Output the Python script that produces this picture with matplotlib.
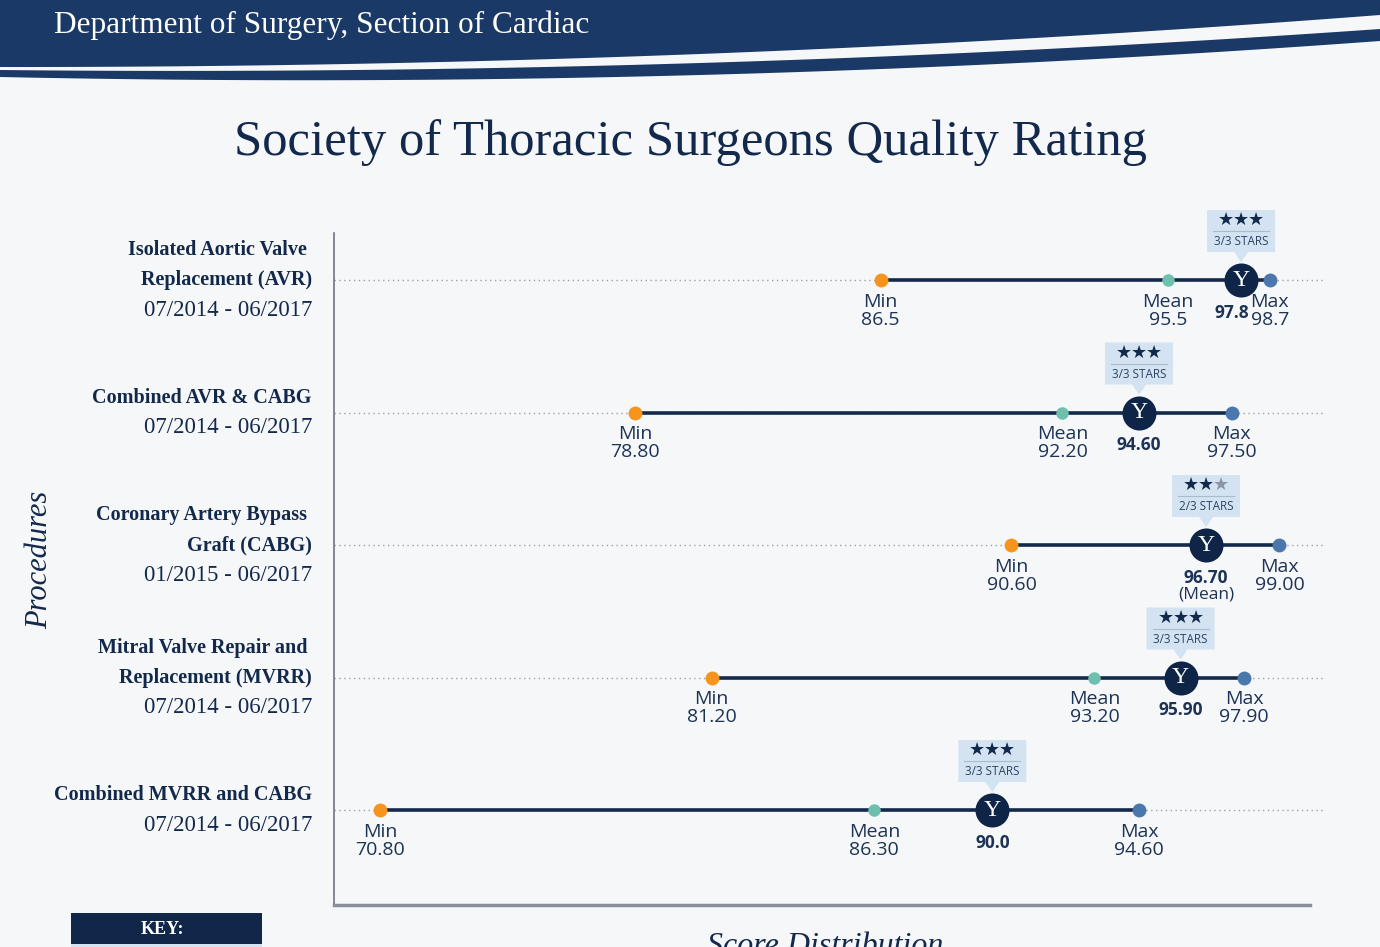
import matplotlib.pyplot as plt
import matplotlib.transforms as mtransforms
from matplotlib.patches import Polygon, Rectangle
import numpy as np

# Data
procedures = [["Isolated Aortic Valve ", "Replacement (AVR)"],
              ["Combined AVR & CABG"],
              ["Coronary Artery Bypass ", "Graft (CABG)"],
              ["Mitral Valve Repair and ", "Replacement (MVRR)"],
              ["Combined MVRR and CABG"]]
periods = ["07/2014 - 06/2017", "07/2014 - 06/2017", "01/2015 - 06/2017",
           "07/2014 - 06/2017", "07/2014 - 06/2017"]
score_min = [86.5, 78.8, 90.6, 81.2, 70.8]
score_mean = [95.5, 92.2, 96.7, 93.2, 86.3]
score_max = [98.7, 97.5, 99.0, 97.9, 94.6]
score_yale = [97.8, 94.6, 96.7, 95.9, 90.0]
stars = [3, 3, 2, 3, 3]
stat_decimals = [1, 2, 2, 2, 2]
yale_decimals = [1, 2, 2, 2, 1]

W, H = 1380, 947
NAVY = '#13294b'
HEAD = '#1b3966'
TXT = '#1c3355'

fig = plt.figure(figsize=(W / 100, H / 100), dpi=100)
fig.patch.set_facecolor('#f6f7f9')

# background axes in pixel coordinates
bg = fig.add_axes([0, 0, 1, 1], zorder=0)
bg.set_xlim(0, W)
bg.set_ylim(H, 0)
bg.axis('off')

# header band with curved stripes
xs = np.linspace(0, W, 200)
def curve(p0, p1, p2):
    c = np.polyfit([0, 700, W], [p0, p1, p2], 2)
    return np.polyval(c, xs)
top_edge = curve(67, 54, 15)
stripe_top = curve(70, 63, 29)
stripe_bot = curve(77, 75, 41)
bg.add_patch(Polygon(np.column_stack([np.r_[xs, xs[::-1]], np.r_[top_edge, np.zeros_like(xs)]]),
                     closed=True, color=HEAD, lw=0))
bg.add_patch(Polygon(np.column_stack([np.r_[xs, xs[::-1]], np.r_[stripe_bot, stripe_top[::-1]]]),
                     closed=True, color=HEAD, lw=0))
bg.text(54, 25, "Department of Surgery, Section of Cardiac", color='white',
        fontsize=22.5, family='Liberation Serif', va='center', ha='left')

bg.text(690, 143, "Society of Thoracic Surgeons Quality Rating", color=NAVY,
        fontsize=36.5, family='Liberation Serif', va='center', ha='center')

bg.text(40, 560, "Procedures", rotation=90, style='italic', fontsize=22,
        family='Liberation Serif', color=NAVY, ha='center', va='center')

# key box and bottom caption
bg.add_patch(Rectangle((71, 913), 191, 31, color='#10274a', lw=0))
bg.add_patch(Rectangle((71, 944), 191, 6, color='#d3e3f1', lw=0))
bg.text(162, 929, "KEY:", color='white', fontsize=13, fontweight='bold',
        family='Liberation Serif', ha='center', va='center')
bg.text(825, 932, "Score Distribution", style='italic', fontsize=23,
        family='Liberation Serif', color=NAVY, ha='center', va='top')

# main axes
ax = fig.add_axes([334 / W, 1 - 905 / H, (1325 - 334) / W, (905 - 233) / H], zorder=1)
ax.patch.set_alpha(0)
ax.set_xlim(69.36, 100.43)
ax.set_ylim(4.717, -0.355)
ax.set_xticks([])
ax.set_yticks([])
for s in ['top', 'right']:
    ax.spines[s].set_visible(False)
ax.spines['left'].set_color('#6f7682')
ax.spines['left'].set_linewidth(1.2)
ax.spines['bottom'].set_color('#8a909c')
ax.spines['bottom'].set_linewidth(2.5)
ax.spines['bottom'].set_bounds(69.36, 99.96)

blend = mtransforms.blended_transform_factory(bg.transData, ax.transData)


def badge(x, row, n):
    trans = fig.dpi_scale_trans + mtransforms.ScaledTranslation(x, row, ax.transData)
    pts = np.array([(-34, 70), (34, 70), (34, 28), (7, 28), (0, 18), (-7, 28), (-34, 28)]) / 100
    ax.add_patch(Polygon(pts, closed=True, transform=trans, color='#d3e3f1', lw=0,
                         zorder=6, clip_on=False))
    ax.plot([-0.28, 0.28], [0.49, 0.49], transform=trans, color='#a9bccf', lw=0.8,
            zorder=7, clip_on=False)
    for k in range(3):
        ax.text((k - 1) * 0.15, 0.60, '\u2605', transform=trans, ha='center', va='center',
                fontsize=13, family='DejaVu Sans', zorder=7,
                color=NAVY if k < n else '#8a94a3')
    ax.text(0, 0.385, f"{n}/3 STARS", transform=trans, ha='center', va='center',
            fontsize=8.5, family='Open Sans', color='#2c4466', zorder=7)


for i in range(len(score_min)):
    mn, me, mx, yv = score_min[i], score_mean[i], score_max[i], score_yale[i]
    d = stat_decimals[i]

    ax.axhline(i, color='#9aa0a8', lw=1, ls=(0, (1, 2.5)), zorder=1)
    ax.plot([mn, mx], [i, i], color=NAVY, lw=2.6, zorder=2, solid_capstyle='butt')
    ax.plot(mn, i, 'o', ms=10, color='#f7941d', mec='none', zorder=3)
    ax.plot(mx, i, 'o', ms=10, color='#4a78ac', mec='none', zorder=3)

    lab = dict(textcoords='offset points', ha='center', va='top', fontsize=14,
               color=TXT, family='Open Sans', linespacing=1.0)
    ax.annotate(f"Min\n{mn:.{d}f}", (mn, i), xytext=(0, -9), **lab)
    ax.annotate(f"Max\n{mx:.{d}f}", (mx, i), xytext=(0, -9), **lab)

    if me != yv:
        ax.plot(me, i, 'o', ms=9, color='#6fbfae', mec='none', zorder=3)
        ax.annotate(f"Mean\n{me:.{d}f}", (me, i), xytext=(0, -9), **lab)
    dx = -7 if mx - yv < 1.5 else 0
    ax.annotate(f"{yv:.{yale_decimals[i]}f}", (yv, i), xytext=(dx, -17),
                textcoords='offset points', ha='center', va='top', fontsize=12.5,
                fontweight='bold', color=TXT, family='Open Sans')
    if me == yv:
        ax.annotate("(Mean)", (yv, i), xytext=(dx, -30), textcoords='offset points',
                    ha='center', va='top', fontsize=12.5, color=TXT, family='Open Sans')

    ax.plot(yv, i, 'o', ms=24.5, color='#0f2548', mec='none', zorder=4)
    ax.text(yv, i, 'Y', color='white', family='Liberation Serif', fontsize=17,
            ha='center', va='center', zorder=5)
    badge(yv, i, stars[i])

    lines = procedures[i] + [periods[i]]
    n = len(lines)
    for k, t in enumerate(lines):
        off = -(k - (n - 1) / 2) * 30 / 1.389
        last = k == n - 1
        ax.annotate(t, (312, i), xycoords=blend, xytext=(0, off), textcoords='offset points',
                    ha='right', va='center', fontsize=16.5 if last else 14.5,
                    family='Liberation Serif',
                    fontweight='normal' if last else 'bold', color=NAVY)

fig.savefig('out.png', dpi=100, facecolor=fig.get_facecolor())
